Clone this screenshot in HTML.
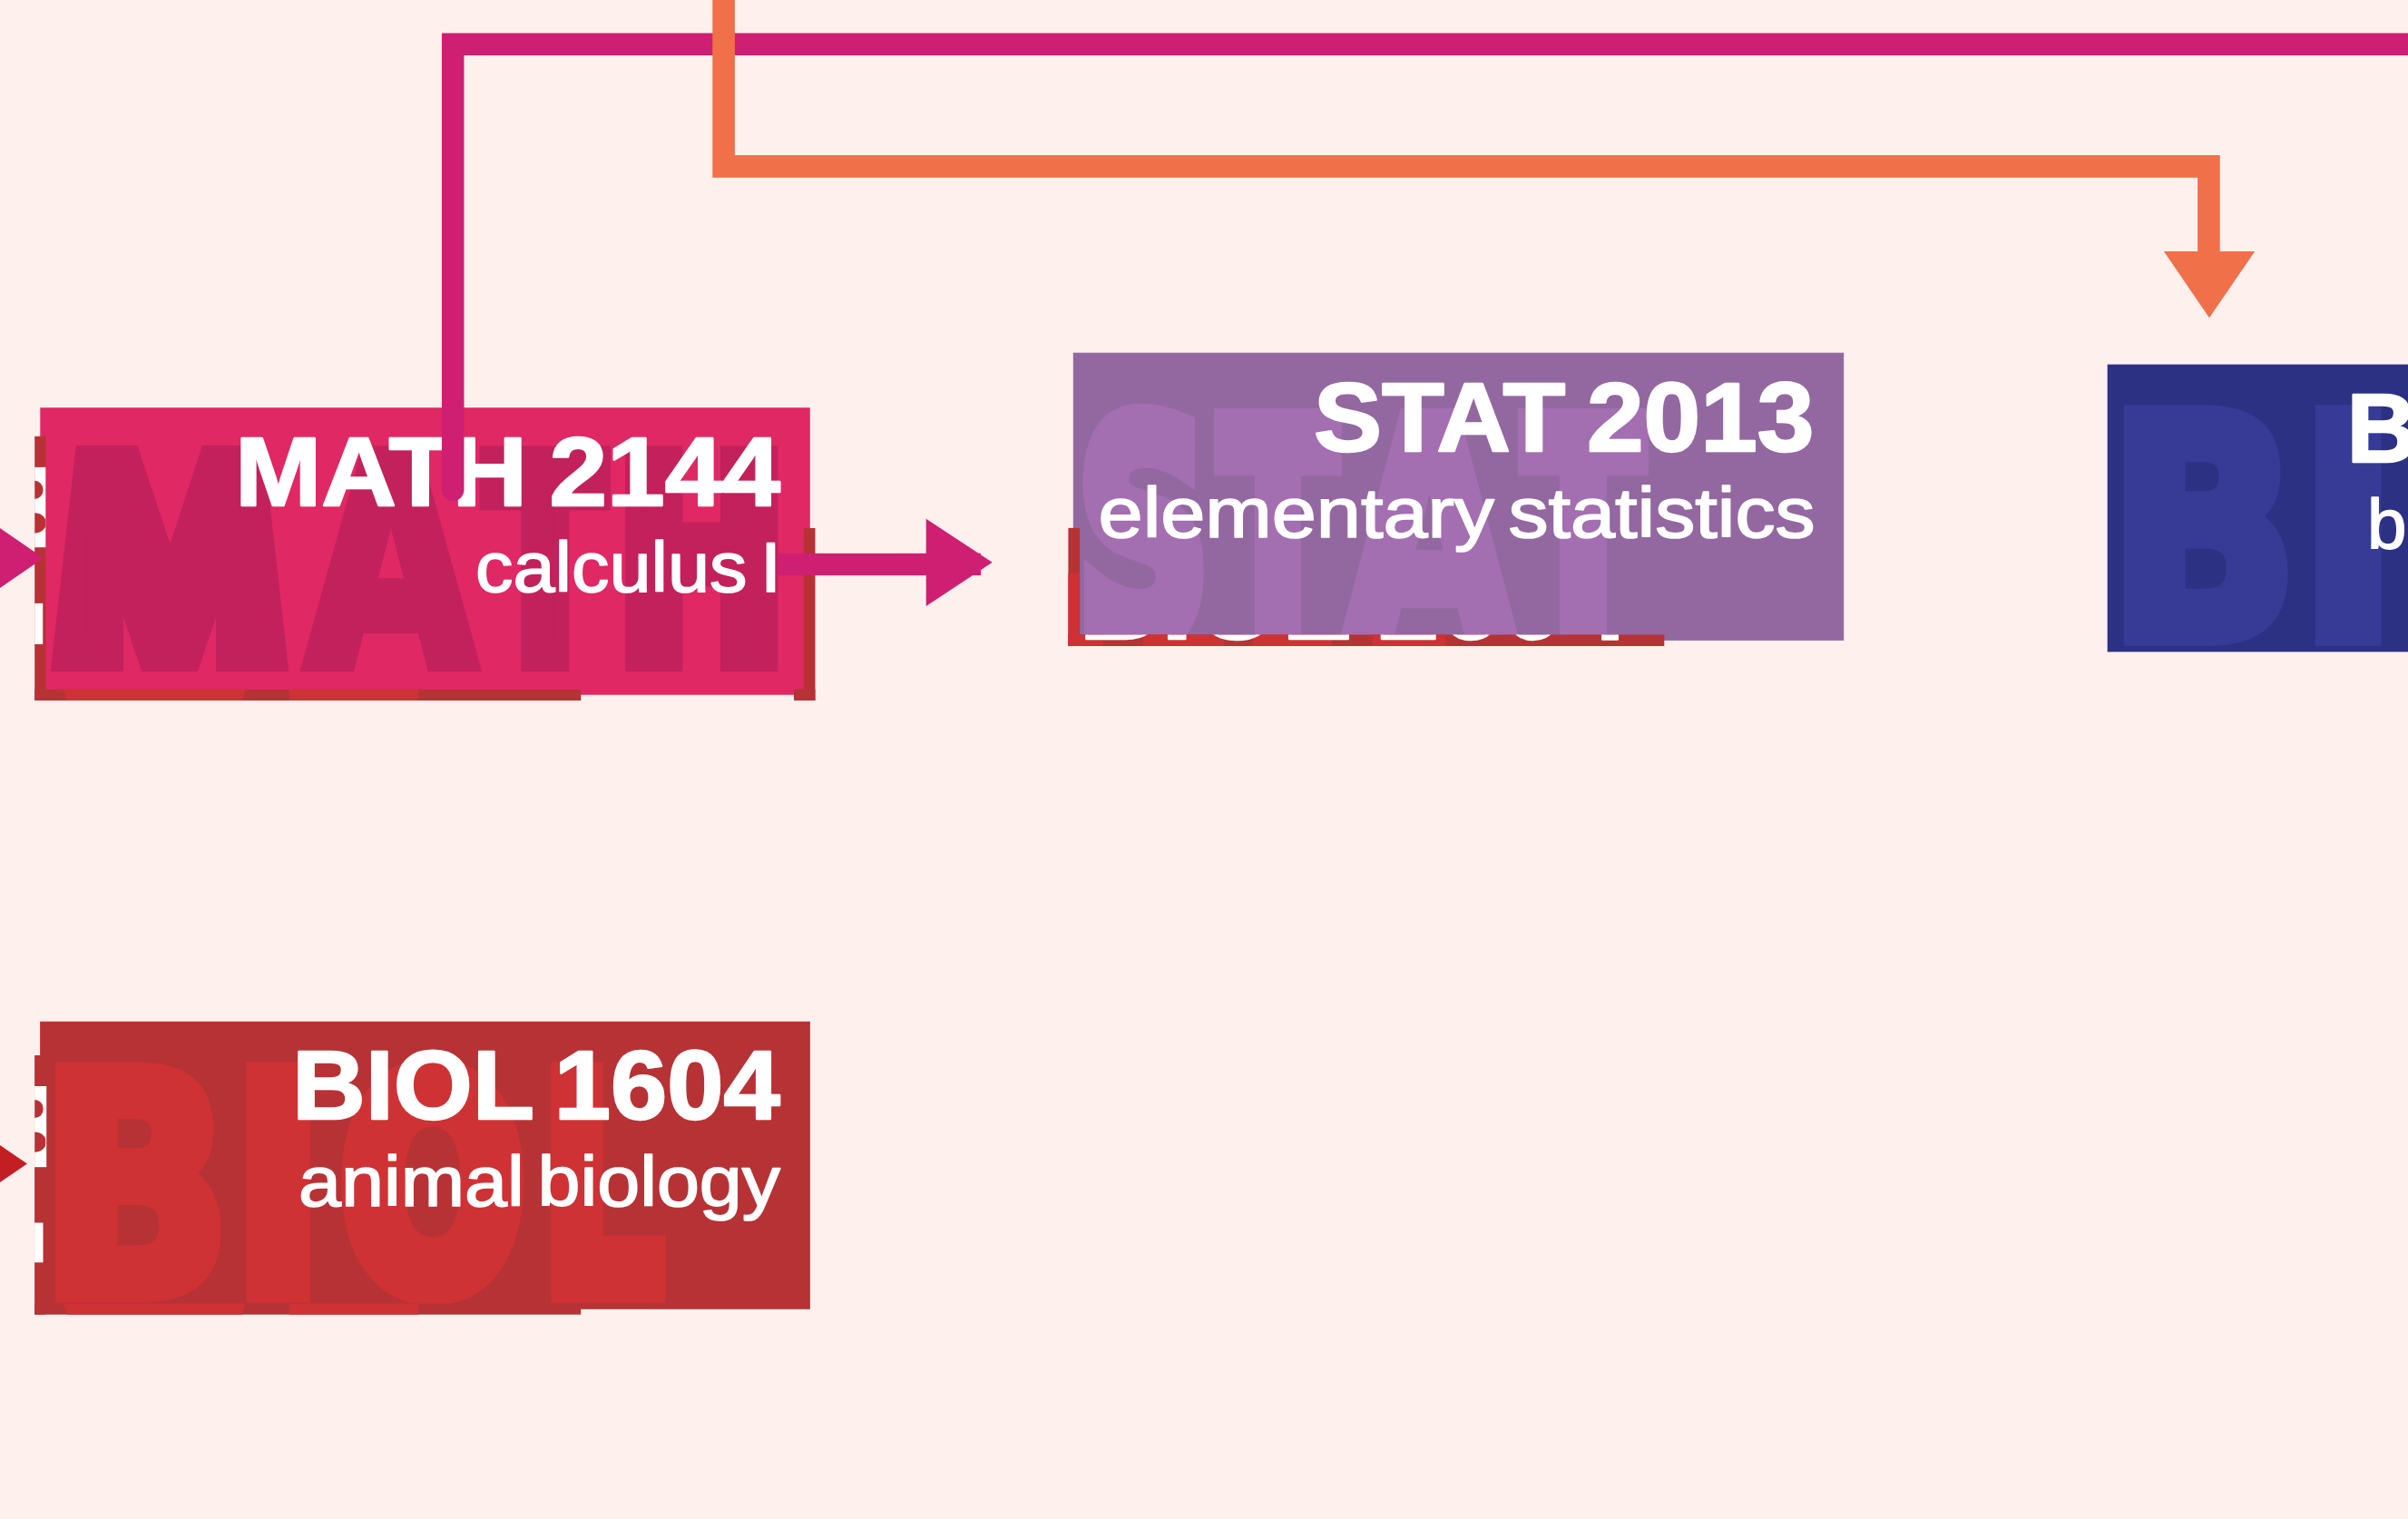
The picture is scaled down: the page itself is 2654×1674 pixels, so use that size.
<!DOCTYPE html>
<html lang="en">
<head>
<meta charset="utf-8">
<title>Course flowchart</title>
<style>
  html, body { margin: 0; padding: 0; background: #FEF0ED; overflow: hidden; }
  svg { display: block; }
  .t  { font-family: "Liberation Sans", sans-serif; font-weight: 700; fill: #fff; stroke: #fff; stroke-width: 2.4px; stroke-linejoin: round; word-spacing: -7px; }
  .s  { font-family: "Liberation Sans", sans-serif; font-weight: 400; fill: #fff; stroke: #fff; stroke-width: 1.7px; stroke-linejoin: round; word-spacing: -8px; }
  .big { font-family: "DejaVu Sans", "Liberation Sans", sans-serif; font-weight: 700; stroke-linejoin: miter; stroke-miterlimit: 2.5; }
</style>
</head>
<body>
<svg width="2654" height="1674" viewBox="0 0 2654 1674">
  <defs>
    <clipPath id="clipstat"><rect x="1182.8" y="388.7" width="849.4" height="317.2"/></clipPath>
    <clipPath id="clipghost"><rect x="1190.1" y="699.4" width="644" height="7.5"/></clipPath>
    <clipPath id="clipstrips"><rect x="38.1" y="400" width="12.2" height="1100"/></clipPath>
  </defs>
  <rect x="0" y="0" width="2654" height="1674" fill="#FEF0ED"/>

  <!-- ===== MATH box ===== -->
  <g id="math">
    <rect x="44.3" y="449.25" width="848.5" height="316.5" fill="#DF2864"/>
    <!--BIGMATH-->
    <text class="big" style="font-family:'Liberation Sans',sans-serif" x="53.83" y="721.00" font-size="306.55" textLength="266.49" lengthAdjust="spacingAndGlyphs" stroke-width="38.0" fill="#C2215C" stroke="#C2215C">M</text>
    <text class="big" x="339.07" y="731.00" font-size="316.10" textLength="183.51" lengthAdjust="spacingAndGlyphs" stroke-width="18.0" fill="#C2215C" stroke="#C2215C">A</text>
    <text class="big" x="536.39" y="726.00" font-size="302.40" textLength="128.75" lengthAdjust="spacingAndGlyphs" stroke-width="28.0" fill="#C2215C" stroke="#C2215C">T</text>
    <text class="big" x="678.88" y="726.00" font-size="302.40" textLength="188.70" lengthAdjust="spacingAndGlyphs" stroke-width="28.0" fill="#C2215C" stroke="#C2215C">H</text>
    <!--/BIGMATH-->
    <path id="mcut" d="M53 489.5 H84.1 L55.6 741 H53 Z M321 489.5 H289.9 L318.4 741 H321 Z" fill="#DF2864"/>
    <text class="t" x="259" y="557.2" font-size="107" textLength="601" lengthAdjust="spacingAndGlyphs">MATH 2144</text>
    <text class="s" x="524" y="652.2" font-size="78" textLength="337" lengthAdjust="spacingAndGlyphs">calculus I</text>
  </g>

  <!-- ===== STAT box ===== -->
  <g id="stat">
    <rect x="1182.8" y="388.7" width="849.4" height="317.2" fill="#9368A1"/>
    <!--BIGSTAT-->
    <g clip-path="url(#clipstat)">
    <text class="big" x="1186.87" y="702.26" font-size="329.37" textLength="146.70" lengthAdjust="spacingAndGlyphs" stroke-width="26.0" fill="#A36FB1" stroke="#A36FB1">S</text>
    <text class="big" x="1345.07" y="701.20" font-size="325.34" textLength="126.80" lengthAdjust="spacingAndGlyphs" stroke-width="28.0" fill="#A36FB1" stroke="#A36FB1">T</text>
    <text class="big" x="1481.72" y="706.20" font-size="339.04" textLength="187.42" lengthAdjust="spacingAndGlyphs" stroke-width="18.0" fill="#A36FB1" stroke="#A36FB1">A</text>
    <text class="big" x="1680.03" y="701.20" font-size="325.34" textLength="129.67" lengthAdjust="spacingAndGlyphs" stroke-width="28.0" fill="#A36FB1" stroke="#A36FB1">T</text>
    </g>
    <!--/BIGSTAT-->
    <text class="t" x="1448" y="496.6" font-size="107" textLength="551.4" lengthAdjust="spacingAndGlyphs">STAT 2013</text>
    <text class="s" x="1210.6" y="591.9" font-size="78" textLength="790" lengthAdjust="spacingAndGlyphs">elementary statistics</text>
  </g>

  <!-- ===== blue BIOL box (cut off at right) ===== -->
  <g id="blue">
    <rect x="2322.7" y="401.6" width="400" height="316.8" fill="#2D3184"/>
    <!--BIGBLUE-->
    <text class="big" x="2323.78" y="701.80" font-size="336.85" textLength="209.00" lengthAdjust="spacingAndGlyphs" stroke-width="20.0" fill="#373B96" stroke="#373B96">B</text>
    <text class="big" x="2538.76" y="697.80" font-size="325.89" textLength="98.66" lengthAdjust="spacingAndGlyphs" stroke-width="28.0" fill="#373B96" stroke="#373B96">I</text>
    <!--/BIGBLUE-->
    <text class="t" x="2586.6" y="508.9" font-size="107">B</text>
    <text class="s" x="2609" y="604.6" font-size="78">b</text>
  </g>

  <!-- ===== BIOL 1604 box ===== -->
  <g id="biol">
    <rect x="44.1" y="1125.7" width="848.8" height="317.1" fill="#B73235"/>
    <!--BIGBIOL-->
    <text class="big" x="43.88" y="1425.50" font-size="336.30" textLength="210.94" lengthAdjust="spacingAndGlyphs" stroke-width="20.0" fill="#CE3234" stroke="#CE3234">B</text>
    <text class="big" x="258.75" y="1421.50" font-size="325.34" textLength="95.89" lengthAdjust="spacingAndGlyphs" stroke-width="28.0" fill="#CE3234" stroke="#CE3234">I</text>
    <text class="big" x="376.49" y="1418.24" font-size="317.49" textLength="200.44" lengthAdjust="spacingAndGlyphs" stroke-width="32.0" fill="#CE3234" stroke="#CE3234">O</text>
    <text class="big" x="597.26" y="1421.50" font-size="325.34" textLength="133.13" lengthAdjust="spacingAndGlyphs" stroke-width="28.0" fill="#CE3234" stroke="#CE3234">L</text>
    <!--/BIGBIOL-->
    <text class="t" x="322" y="1233" font-size="107" textLength="537.6" lengthAdjust="spacingAndGlyphs">BIOL 1604</text>
    <text class="s" x="329" y="1328.6" font-size="78" textLength="531" lengthAdjust="spacingAndGlyphs">animal biology</text>
  </g>

  <!-- ===== connectors ===== -->
  <path d="M2654 48.75 H499.2 V539.8" fill="none" stroke="#CF1F72" stroke-width="24.5" stroke-linecap="round" stroke-linejoin="miter"/>
  <path d="M797.6 0 V183.4 H2434.4 V280" fill="none" stroke="#F0704A" stroke-width="24.6" stroke-linejoin="miter"/>
  <polygon points="2384.9,276.9 2485.2,276.9 2435,350.3" fill="#F0704A"/>

  <!--OVERLAYS-->
  <g id="ov-math">
  <rect x="38.2" y="480.8" width="12.1" height="291.2" fill="#B73235"/>
  <rect x="38.2" y="759.8" width="602.1" height="12.2" fill="#B73235"/>
  <rect x="885.75" y="582" width="12.75" height="190" fill="#B73235"/>
  <rect x="875" y="759.6" width="23.5" height="12.4" fill="#B73235"/>
  <polygon points="69.2,759.8 270.7,759.8 266.8,772.0 74.4,772.0" fill="#CE3234"/>
  <rect x="319.1" y="759.8" width="142.1" height="12.2" fill="#CE3234"/>
  <rect x="38.2" y="514.9" width="12.1" height="88.3" fill="#fff"/>
  <path d="M38.2 529.8 A9.4 10.1 0 0 1 38.2 550.0 Z" fill="#B73235" clip-path="url(#clipstrips)"/>
  <path d="M38.2 565.2 A12.6 11.2 0 0 1 38.2 587.6 Z" fill="#B73235" clip-path="url(#clipstrips)"/>
  <rect x="38.2" y="664.9" width="9" height="45" fill="#fff"/>
  </g>
  <g id="ov-biol">
  <rect x="38.1" y="1163.0" width="12.1" height="285.7" fill="#B73235"/>
  <rect x="38.1" y="1436.5" width="602.1" height="12.2" fill="#B73235"/>
  <polygon points="69.1,1436.5 270.6,1436.5 266.7,1448.7 74.3,1448.7" fill="#CE3234"/>
  <rect x="319.0" y="1436.5" width="142.1" height="12.2" fill="#CE3234"/>
  <rect x="38.1" y="1197" width="13.1" height="89.2" fill="#fff"/>
  <path d="M38.1 1211.9 A9.6 10.1 0 0 1 38.1 1232.1 Z" fill="#B73235" clip-path="url(#clipstrips)"/>
  <path d="M38.1 1247.4 A12.8 11.2 0 0 1 38.1 1269.8 Z" fill="#B73235" clip-path="url(#clipstrips)"/>
  <rect x="38.1" y="1347.5" width="9.4" height="43.8" fill="#fff"/>
  </g>
  <g id="ov-stat">
  <rect x="1177.4" y="581.8" width="12.7" height="130.2" fill="#B73235"/>
  <rect x="1177.4" y="631.7" width="12.7" height="80.3" fill="#CE3234"/>
  <rect x="1177.4" y="699.4" width="656.9" height="12.6" fill="#B73235"/>
  <rect x="1177.4" y="699.4" width="38.4" height="12.6" fill="#CE3234"/>
  <rect x="1260" y="699.4" width="89" height="12.6" fill="#CE3234"/>
  <rect x="1381" y="699.4" width="87" height="12.6" fill="#CE3234"/>
  <rect x="1513" y="699.4" width="80" height="12.6" fill="#CE3234"/>
  <text class="t" clip-path="url(#clipghost)" x="1189" y="704.3" font-size="124" textLength="606" lengthAdjust="spacingAndGlyphs">BIOL 1604</text>
  </g>
  <!--/OVERLAYS-->

  <!-- arrows -->
  <rect x="857.5" y="609.8" width="223.5" height="24.3" fill="#CF1F72"/>
  <polygon points="1020.7,571.7 1020.7,667.9 1093.7,619.7" fill="#CF1F72"/>
  <polygon points="0,582.1 0,648 47.9,615" fill="#CF1F72"/>
  <polygon points="0,1262.1 0,1302.9 30,1282.5" fill="#C41E25"/>
</svg>
</body>
</html>
